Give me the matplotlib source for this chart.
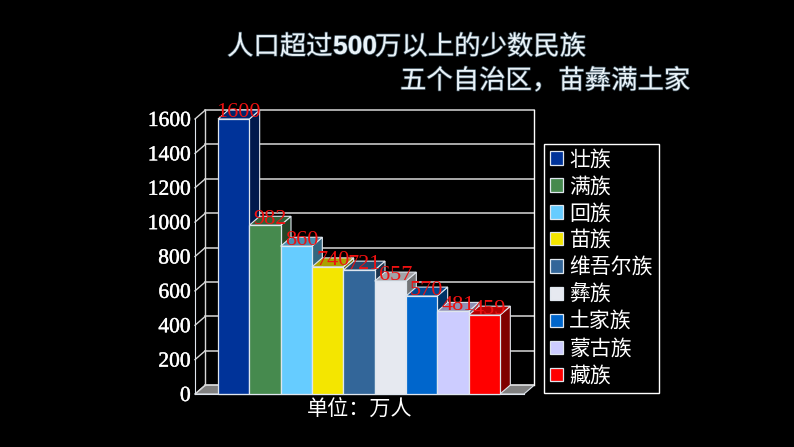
import matplotlib
matplotlib.use("Agg")
import matplotlib.pyplot as plt
import matplotlib.patheffects as pe
from matplotlib.colors import to_rgb
from matplotlib.patches import Patch, Polygon

plt.rcParams['font.family'] = ['Liberation Serif', 'Noto Sans CJK SC']

W, H = 794, 447

# data
groups = ['壮族', '满族', '回族', '苗族', '维吾尔族', '彝族', '土家族', '蒙古族', '藏族']
values = [1600, 982, 860, 740, 721, 657, 570, 481, 459]
colors = ['#003399', '#468A4E', '#66CCFF', '#F4E600', '#336699',
          '#E6E9F0', '#0066CC', '#CCCCFF', '#FF0000']
ticks = [0, 200, 400, 600, 800, 1000, 1200, 1400, 1600]
xlabel = '单位：万人'

# 3d look, in data units
depth_x = 0.33
depth_y = 52
edge = '#dfe6ee'
xmin, xmax = -0.5 - 23 / 31.33, 8.5 + 24 / 31.33


def shade(col, k):
    return tuple(c * k for c in to_rgb(col))


fig = plt.figure(figsize=(W / 100, H / 100), dpi=100, facecolor='black')
ax = fig.add_axes([195 / W, 1 - 394 / H, (524 - 195) / W, (394 - 119) / H])
ax.set_facecolor('black')
ax.patch.set_alpha(0)
ax.set_xlim(xmin, xmax)
ax.set_ylim(0, 1600)

for s in ['top', 'right']:
    ax.spines[s].set_visible(False)
for s in ['left', 'bottom']:
    ax.spines[s].set_color(edge)

# floor
ax.add_patch(Polygon([(xmin, 0), (xmax, 0), (xmax + depth_x, depth_y), (xmin + depth_x, depth_y)],
                     facecolor='#808080', edgecolor=edge, lw=0.8, clip_on=False, zorder=1))

# walls
for t in ticks:
    ax.plot([xmin + depth_x, xmax + depth_x], [t + depth_y, t + depth_y], color='#d8d8d8', lw=1.1,
            clip_on=False, zorder=1.5)
    ax.plot([xmin, xmin + depth_x], [t, t + depth_y], color='#d8d8d8', lw=1, clip_on=False, zorder=1.5)
ax.plot([xmin + depth_x] * 2, [depth_y, 1600 + depth_y], color='#d8d8d8', lw=1, clip_on=False, zorder=1.5)
ax.plot([xmax + depth_x] * 2, [depth_y, 1600 + depth_y], color='white', lw=1, clip_on=False, zorder=1.5)

# bars, left to right so each one covers the side of the previous
for i, (v, c) in enumerate(zip(values, colors)):
    z = 2 + i
    l, r = i - 0.5, i + 0.5
    ax.add_patch(Polygon([(r, 0), (r + depth_x, depth_y), (r + depth_x, v + depth_y), (r, v)],
                         facecolor=shade(c, 0.5), edgecolor=edge, lw=0.8, clip_on=False, zorder=z))
    ax.add_patch(Polygon([(l, v), (r, v), (r + depth_x, v + depth_y), (l + depth_x, v + depth_y)],
                         facecolor=shade(c, 0.7), edgecolor=edge, lw=0.8, clip_on=False, zorder=z))
    ax.bar(i, v, width=1, color=c, edgecolor=edge, linewidth=0.9, zorder=z + 0.1, clip_on=False)

# value labels
for i, v in enumerate(values):
    ax.text(i + depth_x / 2, v + 35, str(v), color='#EE1111', fontsize=16, ha='center', va='center',
            zorder=20, clip_on=False)

ax.set_xticks([])
ax.set_yticks(ticks)
ax.set_yticklabels([str(t) for t in ticks], color='white', fontsize=15.5,
                   path_effects=[pe.withStroke(linewidth=0.3, foreground='white')])
ax.tick_params(axis='y', length=0, pad=3)
ax.set_xlabel(xlabel, color='white', fontsize=15.2, labelpad=5)

handles = [Patch(facecolor=c, edgecolor=edge, linewidth=0.9) for c in colors]
leg = ax.legend(handles, groups, loc='upper left', bbox_to_anchor=(544 / W, 1 - 144 / H),
                bbox_transform=fig.transFigure, borderaxespad=0, fontsize=15,
                labelcolor='white', facecolor='black', edgecolor='white', fancybox=False,
                framealpha=1, handlelength=0.62, handleheight=0.62, handletextpad=0.3,
                labelspacing=0.337, borderpad=0.3)
leg.get_frame().set_linewidth(1)

# title, three pieces because of the bold number
glow = [pe.withStroke(linewidth=1.0, foreground='#3f525e')]
title_col = '#EAF3F8'
title_parts = [
    (227, 47, '人口超过', ['Noto Sans CJK SC'], 'light'),
    (333, 47, '500', ['Liberation Sans'], 'bold'),
    (375, 47, '万以上的少数民族', ['Noto Sans CJK SC'], 'light'),
    (400, 81, '五个自治区，苗彝满土家', ['Noto Sans CJK SC'], 'light'),
]
for x, y, txt, fam, wt in title_parts:
    t = fig.text(x / W, 1 - y / H, txt, color=title_col, family=fam, weight=wt, fontsize=19,
                 ha='left', va='center')
    t.set_path_effects(glow)

fig.savefig('out.png', dpi=100, facecolor='black')
